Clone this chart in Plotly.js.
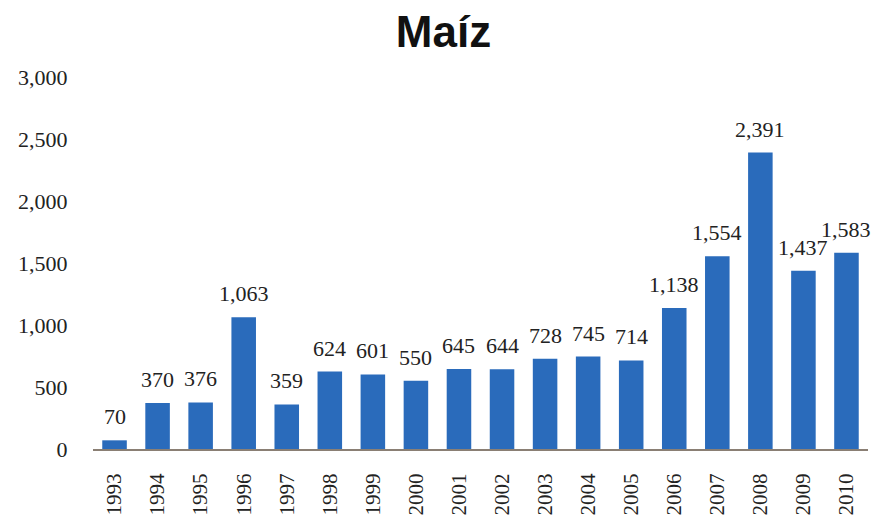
<!DOCTYPE html>
<html>
<head>
<meta charset="utf-8">
<script src="https://cdn.plot.ly/plotly-3.0.1.min.js"></script>
<style>html,body{margin:0;padding:0;background:#fff;}#chart{width:873px;height:522px;}</style>
</head>
<body>
<div id="chart"></div>
<script>
const years = ["1993","1994","1995","1996","1997","1998","1999","2000","2001","2002","2003","2004","2005","2006","2007","2008","2009","2010"];
const values = [70,370,376,1063,359,624,601,550,645,644,728,745,714,1138,1554,2391,1437,1583];
const yTicks = [0,500,1000,1500,2000,2500,3000];
const yTickLabels = ["0","500","1,000","1,500","2,000","2,500","3,000"];

const serif = "Liberation Serif, DejaVu Serif, serif";
const trace = {
  type: "bar",
  x: years,
  y: values,
  marker: {color: "#2a6bbb"},
  hoverinfo: "skip"
};
// category index positions for annotations
const annotations = years.map((yr, i) => ({
  x: i, y: values[i], xref: "x", yref: "y",
  text: values[i].toLocaleString("en-US"),
  showarrow: false, xanchor: "center", yanchor: "bottom", yshift: 9,
  font: {family: serif, size: 22, color: "#222"}
}));
const layout = {
  width: 873, height: 522,
  margin: {l: 93, r: 5, t: 77, b: 73},
  paper_bgcolor: "#fff", plot_bgcolor: "#fff",
  showlegend: false,
  bargap: 0.43,
  annotations: annotations,
  title: {text: "<b>Maíz</b>", x: 0.508, xanchor: "center", y: 0.94, yanchor: "middle",
          font: {family: "Liberation Sans, Arial, sans-serif", size: 44, color: "#111"}},
  xaxis: {
    type: "category",
    range: [-0.5, years.length - 0.5],
    tickangle: -90,
    showgrid: false,
    showline: true, linecolor: "#8a7f74", linewidth: 2,
    ticks: "outside", ticklen: 14, tickcolor: "rgba(0,0,0,0)",
    tickfont: {family: serif, size: 21, color: "#222"},
    zeroline: false
  },
  yaxis: {
    range: [0, 3000],
    tickvals: yTicks,
    ticktext: yTickLabels,
    showgrid: false, zeroline: false, showline: false,
    ticks: "outside", ticklen: 20, tickcolor: "rgba(0,0,0,0)",
    tickfont: {family: serif, size: 22, color: "#222"}
  }
};
Plotly.newPlot("chart", [trace], layout, {staticPlot: true, displayModeBar: false});
</script>
</body>
</html>
